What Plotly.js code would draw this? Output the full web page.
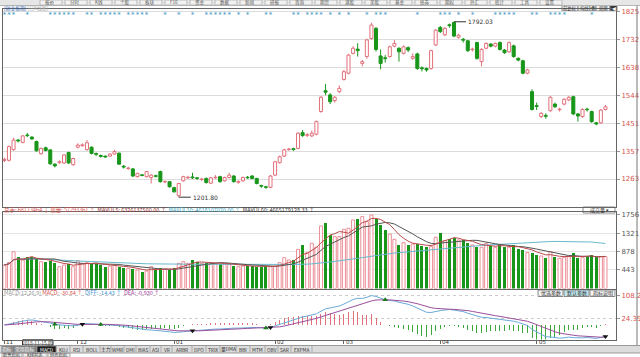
<!DOCTYPE html>
<html><head><meta charset="utf-8">
<script src="https://cdn.plot.ly/plotly-3.0.1.min.js"></script>
<style>html,body{margin:0;padding:0;background:#fff;overflow:hidden}#chart{width:640px;height:357px;}</style>
</head><body><div id="chart"></div>
<script>
// ---- data (index 0 = 2018-11-09 ... 131 = 2019-05-27) ----
const openP  = [1325,1326,1362,1394,1386,1411,1404,1389,1348,1368,1361,1313,1318,1317,1352,1311,1370,1375,1362,1370,1349,1342,1340,1340,1347,1350,1306,1298,1297,1271,1277,1271,1268,1274,1288,1253,1254,1234,1207,1257,1267,1270,1267,1261,1265,1249,1267,1271,1257,1268,1273,1252,1257,1269,1273,1265,1241,1237,1235,1276,1318,1340,1362,1365,1366,1419,1410,1408,1414,1490,1560,1546,1527,1557,1598,1619,1686,1700,1652,1675,1736,1770,1677,1671,1675,1710,1703,1686,1705,1669,1684,1637,1635,1635,1714,1773,1748,1782,1790,1740,1733,1728,1698,1722,1658,1703,1717,1710,1722,1697,1691,1711,1669,1661,1619,1557,1510,1473,1477,1493,1515,1496,1515,1529,1540,1482,1473,1498,1490,1452,1452,1497];
const highP  = [1335,1376,1402,1398,1411,1418,1407,1392,1369,1372,1363,1316,1326,1347,1355,1335,1383,1383,1394,1373,1352,1345,1342,1349,1361,1352,1310,1304,1300,1284,1280,1290,1279,1278,1291,1258,1256,1237,1250,1274,1274,1284,1270,1267,1268,1270,1276,1274,1271,1284,1276,1258,1271,1273,1276,1267,1244,1240,1276,1324,1342,1365,1368,1368,1420,1428,1418,1426,1460,1542,1583,1552,1542,1578,1630,1684,1710,1720,1664,1735,1789,1774,1699,1680,1712,1731,1706,1712,1709,1686,1688,1642,1638,1698,1768,1778,1774,1786,1792.03,1752,1738,1731,1705,1725,1703,1723,1720,1722,1726,1700,1726,1715,1672,1664,1634,1565,1520,1488,1484,1542,1520,1503,1535,1542,1543,1485,1501,1503,1493,1455,1499,1512];
const lowP   = [1320,1322,1358,1386,1383,1404,1395,1355,1345,1356,1311,1302,1314,1314,1314,1308,1366,1372,1358,1346,1340,1335,1334,1338,1345,1311,1298,1294,1270,1268,1272,1268,1248,1268,1251,1249,1234,1217,1201.8,1254,1263,1263,1260,1257,1248,1246,1264,1251,1254,1265,1251,1247,1254,1264,1262,1245,1233,1230,1232,1273,1315,1337,1358,1358,1363,1405,1404,1404,1410,1486,1545,1515,1520,1552,1594,1615,1682,1675,1642,1668,1732,1692,1632,1655,1671,1706,1658,1682,1690,1664,1630,1625,1624,1631,1710,1754,1744,1772,1740,1735,1722,1690,1692,1664,1642,1699,1706,1706,1695,1684,1687,1671,1659,1615,1615,1493,1495,1468,1466,1489,1502,1490,1511,1525,1478,1456,1469,1490,1452,1444,1449,1494];
const closeP = [1329,1372,1394,1391,1408,1409,1398,1358,1366,1359,1314,1307,1321,1344,1317,1332,1377,1378,1385,1349,1346,1339,1337,1347,1355,1313,1303,1300,1273,1282,1275,1288,1276,1272,1254,1255,1237,1220,1248,1271,1269,1267,1265,1263,1251,1267,1269,1254,1268,1276,1254,1255,1268,1267,1265,1248,1239,1235,1273,1321,1338,1361,1364,1362,1417,1409,1412,1417,1456,1538,1555,1523,1538,1568,1624,1680,1703,1695,1658,1731,1781,1699,1652,1668,1708,1719,1691,1708,1697,1675,1635,1634,1630,1695,1764,1759,1770,1779,1744,1747,1730,1695,1700,1669,1699,1719,1710,1719,1699,1688,1722,1675,1663,1619,1630,1497,1507,1484,1474,1538,1506,1498,1531,1538,1482,1475,1497,1496,1456,1448,1495,1506];
const volume = [561,617,880,760,680,744,744,696,640,640,665,601,521,561,577,521,665,601,617,585,585,561,521,537,561,521,498,482,466,442,402,418,521,442,482,466,442,482,601,640,601,680,640,601,617,601,601,585,585,585,537,521,537,537,537,521,521,537,521,537,617,736,680,680,935,1040,857,1080,985,1493,1557,1271,1240,1240,1414,1438,1637,1653,1716,1597,1756,1653,1517,1398,1302,1175,1040,1095,1040,1063,1063,1016,985,1000,1222,1334,1143,1175,1198,1159,1159,1080,1040,985,985,1080,1016,985,1032,1000,985,1040,937,921,857,857,801,777,722,881,745,722,745,761,857,722,745,761,801,745,761,761];
const monthTickIdx = [0,16,37,59,74,95,116];
const monthLabels  = ["11","12","01","02","03","04","05"];
const priceTicks = [1263,1357,1451,1544,1638,1732,1825];
const volTicks   = [443,878,1321,1756];
const macdTicks  = [24.39,108.2];
const macdTickText = ["24.39","108.2"];
const starIdx = [0,1,2,5,10,11,12,13,14,15,18,19,21,22,23,24,25,27,28,29,30,31,35,38,41,44,45,46,47,48,49,51,53,57,58,63,64,66,67,68,69,71,73,75,79,81,82,83,90,95,96,97,99,102,107,108,109,110,111,115,116,119,120,121,122,128];
const lowMark  = {idx:38, value:1201.80, label:"1201.80"};
const highMark = {idx:98, value:1792.03, label:"1792.03"};
const macdCrossUp   = [11,21,57,83];
const macdCrossDown = [17,41,58,131];

// ---- derived indicators ----
const N = closeP.length;
const idx = Array.from({length:N},(_,i)=>i);
function ma(a,n){return a.map((v,i)=>{const s=Math.max(0,i-n+1);let t=0;for(let k=s;k<=i;k++)t+=a[k];return t/(i-s+1);});}
function ema(a,n){const al=2/(n+1);const o=[];a.forEach((v,i)=>o.push(i===0?v:al*v+(1-al)*o[i-1]));return o;}
const e12=ema(closeP,12), e26=ema(closeP,26);
const diff=e12.map((v,i)=>v-e26[i]);
const dea=ema(diff,9);
const macd=diff.map((v,i)=>2*(v-dea[i]));
const up = idx.map(i=>closeP[i]>=openP[i]);
const upI = idx.filter(i=>up[i]), dnI = idx.filter(i=>!up[i]);

const W=640,H=357;
const px=x=>x/W, py=y=>1-y/H;
const RED='#e2707a', GREEN='#18961a', PRICE_LBL='#d9534f';
const CJK='Noto Sans CJK SC';

function wicks(list){const xs=[],ys=[];list.forEach(i=>{const top=Math.max(openP[i],closeP[i]),bot=Math.min(openP[i],closeP[i]);
  xs.push(i,i,null,i,i,null);ys.push(highP[i],top,null,bot,lowP[i],null);});return {xs,ys};}
const wu=wicks(upI), wd=wicks(dnI);
const minBody=1.2;

const traces=[];
traces.push({type:'bar',x:upI,base:upI.map(i=>openP[i]),y:upI.map(i=>Math.max(closeP[i]-openP[i],minBody)),width:0.66,
  marker:{color:'#ffffff',line:{color:RED,width:1}},xaxis:'x',yaxis:'y',hoverinfo:'skip',showlegend:false});
traces.push({type:'bar',x:dnI,base:dnI.map(i=>closeP[i]),y:dnI.map(i=>Math.max(openP[i]-closeP[i],minBody)),width:0.66,
  marker:{color:GREEN,line:{color:GREEN,width:1}},xaxis:'x',yaxis:'y',hoverinfo:'skip',showlegend:false});
traces.push({type:'scatter',mode:'lines',x:wu.xs,y:wu.ys,line:{color:RED,width:1},xaxis:'x',yaxis:'y',hoverinfo:'skip',showlegend:false,connectgaps:false});
traces.push({type:'scatter',mode:'lines',x:wd.xs,y:wd.ys,line:{color:GREEN,width:1},xaxis:'x',yaxis:'y',hoverinfo:'skip',showlegend:false,connectgaps:false});
traces.push({type:'scatter',mode:'text',x:starIdx,y:starIdx.map(()=>1813),text:starIdx.map(()=>'*'),
  textfont:{size:7,color:'#2e8fbf',family:'DejaVu Sans'},xaxis:'x',yaxis:'y',hoverinfo:'skip',showlegend:false,cliponaxis:false});
// volume
traces.push({type:'bar',x:upI,y:upI.map(i=>volume[i]),width:0.66,
  marker:{color:'#ffffff',line:{color:'#eb8e96',width:1}},xaxis:'x2',yaxis:'y2',hoverinfo:'skip',showlegend:false});
traces.push({type:'bar',x:dnI,y:dnI.map(i=>volume[i]),width:0.66,
  marker:{color:GREEN,line:{width:0}},xaxis:'x2',yaxis:'y2',hoverinfo:'skip',showlegend:false});
traces.push({type:'scatter',mode:'lines',x:idx,y:ma(volume,60),line:{color:'#68b8cc',width:1},xaxis:'x2',yaxis:'y2',hoverinfo:'skip',showlegend:false});
traces.push({type:'scatter',mode:'lines',x:idx,y:ma(volume,10),line:{color:'#555555',width:1},xaxis:'x2',yaxis:'y2',hoverinfo:'skip',showlegend:false});
traces.push({type:'scatter',mode:'lines',x:idx,y:ma(volume,5),line:{color:'#b84a4a',width:1},xaxis:'x2',yaxis:'y2',hoverinfo:'skip',showlegend:false});
// macd
traces.push({type:'bar',x:idx,y:macd,width:0.22,marker:{color:macd.map(v=>v>=0?'#e0707a':'#3aa83a'),line:{width:0}},xaxis:'x3',yaxis:'y3',hoverinfo:'skip',showlegend:false});
traces.push({type:'scatter',mode:'lines',x:idx,y:diff,line:{color:'#6aaad8',width:1},xaxis:'x3',yaxis:'y3',hoverinfo:'skip',showlegend:false});
traces.push({type:'scatter',mode:'lines',x:idx,y:dea,line:{color:'#9b4f9b',width:1},xaxis:'x3',yaxis:'y3',hoverinfo:'skip',showlegend:false});
traces.push({type:'scatter',mode:'markers',x:macdCrossUp,y:macdCrossUp.map(i=>diff[i]),marker:{symbol:'triangle-up',size:5,color:'#1f7a1f'},xaxis:'x3',yaxis:'y3',hoverinfo:'skip',showlegend:false,cliponaxis:false});
traces.push({type:'scatter',mode:'markers',x:macdCrossDown,y:macdCrossDown.map(i=>diff[i]),marker:{symbol:'triangle-down',size:5,color:'#111'},xaxis:'x3',yaxis:'y3',hoverinfo:'skip',showlegend:false,cliponaxis:false});

const xr=[-0.3,133.3];
const xd=[px(3),px(616)];
const baseX={range:xr,domain:xd,showgrid:false,zeroline:false,showticklabels:false,fixedrange:true,
  showline:true,linecolor:'#666',linewidth:1,mirror:true};
const S=[]; // shapes
const layout={
  width:W,height:H,margin:{l:0,r:0,t:0,b:0},paper_bgcolor:'#fff',plot_bgcolor:'#fff',
  font:{family:'DejaVu Sans, '+CJK,size:7,color:'#333'},
  showlegend:false,barmode:'overlay',bargap:0,
  xaxis:Object.assign({},baseX,{anchor:'y'}),
  xaxis2:Object.assign({},baseX,{anchor:'y2',matches:'x'}),
  xaxis3:Object.assign({},baseX,{anchor:'y3',matches:'x',ticks:'outside',ticklen:3,tickcolor:'#666',tickvals:monthTickIdx}),
  yaxis:{domain:[py(206.5),py(9)],range:[1170.5,1835],side:'right',tickvals:priceTicks,ticks:'outside',ticklen:3,tickcolor:'#999',
    tickfont:{size:7,color:PRICE_LBL},showgrid:true,gridcolor:'#dcdcdc',gridwidth:1,zeroline:false,showline:true,linecolor:'#666',mirror:true,fixedrange:true},
  yaxis2:{domain:[py(288.5),py(212)],range:[0,1827],side:'right',tickvals:volTicks,ticks:'outside',ticklen:3,tickcolor:'#999',
    tickfont:{size:7,color:'#555'},showgrid:true,gridcolor:'#e4e4e4',zeroline:false,showline:true,linecolor:'#666',mirror:true,fixedrange:true},
  yaxis3:{domain:[py(339.5),py(290)],range:[-53.5,129],side:'right',tickvals:macdTicks,ticktext:macdTickText,ticks:'outside',ticklen:3,tickcolor:'#999',
    tickfont:{size:7,color:PRICE_LBL},showgrid:true,gridcolor:'#cccccc',griddash:'dot',zeroline:false,showline:true,linecolor:'#666',mirror:true,fixedrange:true},
  shapes:S,
  annotations:[]
};
function rect(x0,y0,x1,y1,fill,line){S.push({type:'rect',xref:'paper',yref:'paper',x0:px(x0),x1:px(x1),y0:py(y1),y1:py(y0),fillcolor:fill,line:line?{color:line,width:1}:{width:0},layer:'below'});}
function hline(x0,x1,y,c){S.push({type:'line',xref:'paper',yref:'paper',x0:px(x0),x1:px(x1),y0:py(y),y1:py(y),line:{color:c,width:1}});}
rect(0,0,640,5.5,'#e6e6e6');
hline(0,640,5.5,'#b5b5b5');
S.push({type:'line',xref:'paper',yref:'paper',x0:px(637),x1:px(637),y0:py(345),y1:py(6),line:{color:'#777',width:1}});
rect(0,345.5,640,353,'#dcdcdc');
hline(0,640,345.5,'#999'); hline(0,640,353,'#999');

const A=layout.annotations;
function txt(x,y,t,size,color,anchor,fam){A.push({xref:'paper',yref:'paper',x:px(x),y:py(y),xanchor:anchor||'left',yanchor:'middle',showarrow:false,text:t,
  font:{size:size,color:color||'#333',family:fam||CJK},borderpad:0});}
// top title
txt(3,8.2,'<span style="color:#2a5caa">[创业板指]</span> <span style="color:#aaa">[日K线图]</span>',4.8);
// toolbar labels (cut at the top edge)
const tb=['报价','分时','K线','个股','板块','F10','资金','数据','新闻','研报','咨询','期货','港股','美股','基金','债券','期权','外汇','统计','工具','设置'];
tb.forEach((t,i)=>{rect(40+i*25,0,62+i*25,5,'#f2f2f2','#bbb');txt(44+i*25,2.3,t,4.5,'#555');});
// top-right buttons
[['前复权',562,578],['均线',578,590],['叠',590,596],['周期',596,610],['◀',610,617]].forEach(([t,x0,x1],i)=>{
  rect(x0,5.5,x1,11,i===4?'#333':'#f4f4f4','#888');txt((x0+x1)/2,8.3,t,4.3,i===4?'#fff':'#333','center');});
// high/low marks
A.push({xref:'x',yref:'y',x:lowMark.idx,y:lowMark.value,ax:12,ay:0,showarrow:true,arrowhead:0,arrowwidth:1,arrowcolor:'#333',
  text:lowMark.label,xanchor:'left',font:{size:6,color:'#333'},standoff:0});
A.push({xref:'x',yref:'y',x:highMark.idx,y:highMark.value,ax:12,ay:0,showarrow:true,arrowhead:0,arrowwidth:1,arrowcolor:'#333',
  text:highMark.label,xanchor:'left',font:{size:6,color:'#333'},standoff:0});
// volume legend
txt(3,209.5,'<span style="color:#d9534f">总手: 68113464 ↓ 现量: 57293361 ↑</span>  <span style="color:#8b2d2d">MAVOL5: 6326137560.00 ↑</span>  <span style="color:#3fa7c0">MAVOL10: 4618107020.00 ↑</span>  <span style="color:#333">MAVOL60: 4665179128.33 ↑</span>',5.5);
rect(583,207,615,213,'#fff','#888');
txt(599,210,'成交量 ▾',5,'#333','center');
// macd legend
txt(3,292.5,'<span style="color:#999">MACD(12,26,9)</span> <span style="color:#d9534f">MACD: -30.84 ↑</span>  <span style="color:#3f93cf">DIFF: -14.43 ↑</span>  <span style="color:#a0409a">DEA: -0.930 ↑</span>',5.5);
[['优选参数',538,563],['默认参数',564,589],['指标说明',590,615]].forEach(([t,x0,x1],i)=>{
  rect(x0,290,x1,296.5,i===1?'#bfe6ee':'#f4f4f4','#888');txt((x0+x1)/2,293.3,t,5,'#333','center');});
// month labels
monthTickIdx.forEach((t,i)=>A.push({xref:'x3',yref:'paper',x:t,y:py(342.3),xanchor:'left',yanchor:'middle',showarrow:false,text:monthLabels[i],font:{size:5.5,color:'#333'}}));
rect(22.5,339.8,53,345,'#fff','#333');
txt(37.7,342.4,'2018-11-15,四',4.8,'#333','center');
// bottom tabs
const tabs=[['指标',2,12],['常用指标',13,36],['MACD',37,56],['KDJ',57,70],['RSI',70,83],['BOLL',83,100],['主力',100,111],['WMR',111,124],['DMI',124,136],['BIAS',136,150],['ASI',150,161],['VR',161,172],['ARBR',172,192],['DPO',192,206],['TRIX',206,220],['量DMA',220,236],['BBI',236,250],['MTM',250,265],['OBV',265,278],['SAR',278,291],['EXPMA',291,312]];
tabs.forEach(([t,x0,x1],i)=>{
  if(i<3) rect(x0,346,x1,352.5,i===2?'#1e1e1e':'#8c8c8c','#777');
  else S.push({type:'line',xref:'paper',yref:'paper',x0:px(x1),x1:px(x1),y0:py(352.5),y1:py(346),line:{color:'#aaa',width:1}});
  txt((x0+x1)/2,349.3,t,4.8,i<3?'#fff':'#333','center');});
[['股票指标',2,22],['K线形态',23,47],['特色指标',48,70]].forEach(([t,x0,x1])=>{rect(x0,353,x1,357,'#eee','#aaa');txt((x0+x1)/2,355.3,t,4.3,'#333','center');});

Plotly.newPlot('chart',traces,layout,{staticPlot:true,displayModeBar:false});
</script></body></html>
